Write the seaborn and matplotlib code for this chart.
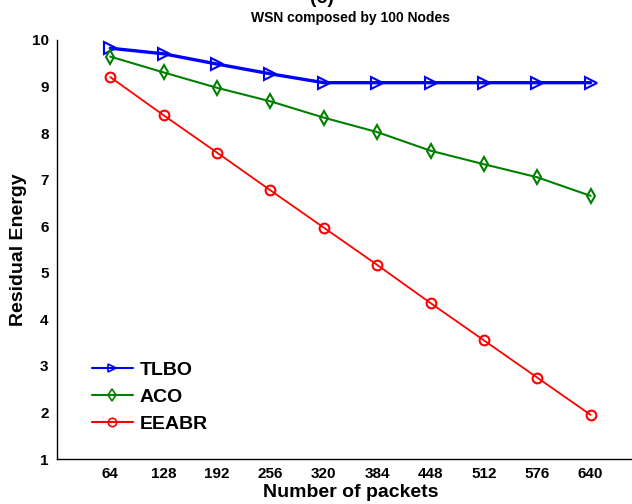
import matplotlib
matplotlib.use("Agg")
import matplotlib.pyplot as plt
import seaborn as sns
import pandas as pd

packets = [64, 128, 192, 256, 320, 384, 448, 512, 576, 640]
tlbo = [9.82, 9.70, 9.48, 9.27, 9.08, 9.08, 9.08, 9.08, 9.08, 9.08]
aco = [9.64, 9.30, 8.97, 8.68, 8.33, 8.02, 7.62, 7.33, 7.05, 6.65]
eeabr = [9.20, 8.38, 7.58, 6.77, 5.97, 5.17, 4.35, 3.55, 2.75, 1.95]
yticks = list(range(1, 11))

sns.set_style("white")
plt.rcParams['font.family'] = ['Liberation Sans', 'DejaVu Sans']
plt.rcParams['font.weight'] = 'bold'
plt.rcParams['text.color'] = 'black'
plt.rcParams['axes.labelcolor'] = 'black'
plt.rcParams['xtick.color'] = 'black'
plt.rcParams['ytick.color'] = 'black'

fig = plt.figure(figsize=(6.32, 5.04), dpi=100)
ax = fig.add_axes([0.090, 0.089, 0.929, 0.832])

series = [("TLBO", tlbo, "#0000ff", ">", 2.4, 9),
          ("ACO", aco, "#008000", "d", 1.5, 7),
          ("EEABR", eeabr, "#ff0000", "o", 1.3, 7)]
for name, vals, col, mk, lw, ms in series:
    df = pd.DataFrame({"packets": packets, "energy": vals})
    sns.lineplot(data=df, x="packets", y="energy", ax=ax, color=col, marker=mk,
                 markersize=ms, markerfacecolor="none", markeredgecolor=col,
                 markeredgewidth=1.5, linewidth=lw, label=name)

ax.set_xlim(0, 704)
ax.set_ylim(1, 10)
ax.set_xticks(packets)
ax.set_xticklabels([str(p) for p in packets], fontsize=11, fontweight='bold')
ax.set_yticks(yticks)
ax.set_yticklabels([str(t) for t in yticks], fontsize=11, fontweight='bold')
ax.tick_params(direction='in', length=5, width=1, color='black', pad=6)
for s in ["top", "right"]:
    ax.spines[s].set_visible(False)
for s in ["left", "bottom"]:
    ax.spines[s].set_color("black")
    ax.spines[s].set_linewidth(1)

ax.set_xlabel("Number of packets", fontsize=14, fontweight='bold', labelpad=2)
ax.set_ylabel("Residual Energy", fontsize=14, fontweight='bold', labelpad=3)
ax.set_title("WSN composed by 100 Nodes", fontsize=10, fontweight='bold', pad=13)
fig.text(0.51, 1.003, "(c)", ha='center', va='center', fontsize=14)

leg = ax.legend(loc='lower left', bbox_to_anchor=(0.03, 0.02), frameon=False,
                fontsize=14, handlelength=2.1, labelspacing=0.5, handletextpad=0.35)
for t in leg.get_texts():
    t.set_fontweight('bold')
for h in leg.get_lines():
    h.set_linewidth(1.5)
    h.set_markersize(6)
    h.set_markeredgewidth(1.2)

fig.savefig("out.png", dpi=100)
